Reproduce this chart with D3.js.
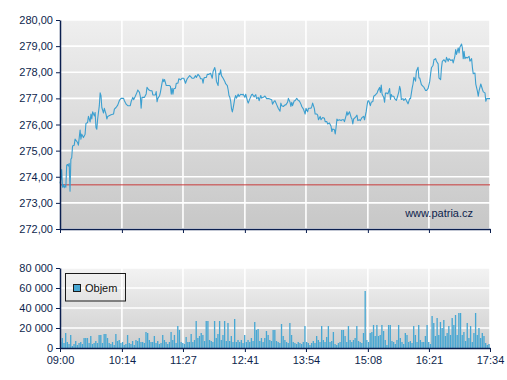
<!DOCTYPE html>
<html>
<head>
<meta charset="utf-8">
<script src="https://cdn.jsdelivr.net/npm/d3@7"></script>
<style>
  body { margin: 0; background: #fff; }
  svg { display: block; font-family: "Liberation Sans", Arial, sans-serif; }
  .axis text { font-size: 11px; fill: #0e1f4d; }
  .axis path, .axis line { stroke: #0b1f4f; }
</style>
</head>
<body>
<svg id="chart"></svg>
<script>
// session 09:00 - 17:34, minutes after open
var sessionLength = 514;
var timeLabels = ["09:00", "10:14", "11:27", "12:41", "13:54", "15:08", "16:21", "17:34"];
var priceTicks = [272, 273, 274, 275, 276, 277, 278, 279, 280];
var volumeTicks = [0, 20000, 40000, 60000, 80000];
var prevClose = 273.69;
var legendLabel = "Objem";
var watermark = "www.patria.cz";

// [minute after 09:00, price]
var price = [
  [0, 273.75], [1, 273.9], [2, 274.28], [3, 273.6], [4, 273.7], [5, 273.58], [6, 273.66], [7, 273.6],
  [8, 274.44], [9, 274.47], [10, 274.41], [11, 274.51], [12, 273.45], [13, 274.67], [14, 274.73],
  [15, 275.18], [17, 275.21], [18, 275.44], [21, 275.31], [22, 275.21], [24, 275.79], [25, 275.44],
  [26, 275.63], [28, 275.5], [30, 275.63], [31, 276.04], [33, 276.08], [34, 276.31], [36, 276.1],
  [37, 276.4], [38, 276.21], [39, 276.49], [41, 276.33], [42, 276.46], [43, 275.88], [44, 275.82],
  [45, 276.21], [47, 276.72], [48, 277.21], [49, 277.1], [50, 276.65], [52, 276.44], [53, 276.62],
  [55, 276.4], [56, 276.21], [57, 276.31], [61, 276.37], [64, 276.4], [65, 276.59], [67, 276.65],
  [69, 276.74], [71, 276.92], [73, 277.0], [76, 277.0], [77, 276.91], [79, 276.78], [81, 276.72],
  [84, 276.72], [85, 276.87], [87, 277.04], [88, 276.95], [90, 277.08], [92, 277.23], [93, 277.32],
  [95, 277.23], [96, 277.08], [97, 276.62], [98, 277.04], [101, 277.04], [103, 277.17], [104, 277.42],
  [106, 277.33], [108, 277.29], [110, 277.29], [111, 277.13], [114, 277.13], [115, 277.26], [116, 276.87],
  [117, 277.0], [119, 277.1], [120, 277.23], [122, 277.59], [123, 277.74], [124, 277.64], [125, 277.72],
  [127, 277.49], [129, 277.49], [131, 277.49],
  [132, 277.46], [133, 277.16], [134, 277.39], [135, 277.16], [136, 277.37], [138, 277.39], [139, 277.58],
  [141, 277.58], [142, 277.75], [144, 277.71], [146, 277.77], [148, 277.77], [150, 277.58], [152, 277.75],
  [155, 277.87], [156, 277.84], [158, 277.77], [160, 277.77], [162, 277.87], [163, 277.8], [165, 277.92],
  [167, 277.84], [168, 277.75], [170, 277.75], [171, 277.58], [172, 277.77], [173, 277.8], [175, 277.8],
  [176, 277.92], [178, 277.92], [180, 277.96], [182, 277.77], [183, 278.03], [185, 278.18], [186, 278.03],
  [187, 277.65], [189, 277.49], [190, 277.96], [191, 277.92], [192, 278.09], [193, 277.87], [195, 277.77],
  [197, 277.65], [198, 277.56], [200, 277.49], [201, 277.33], [202, 277.11], [203, 277.04], [204, 276.89],
  [205, 276.61], [206, 276.48], [207, 276.63], [209, 277.01], [210, 277.11], [211, 277.01], [213, 277.16],
  [214, 277.07], [216, 277.16], [218, 277.14], [219, 277.16], [221, 277.04], [222, 277.16], [224, 276.91],
  [225, 276.82], [227, 276.99], [229, 277.14], [230, 277.16], [232, 277.06], [234, 277.14], [235, 276.99],
  [237, 277.04], [238, 276.91], [240, 277.11], [241, 277.01], [243, 277.04], [245, 277.09], [247, 276.99],
  [250, 276.99], [253, 276.95], [254, 276.78], [256, 276.89], [257, 276.91], [259, 276.76], [261, 276.61],
  [263, 276.51],
  [264, 276.82], [265, 276.72], [267, 276.69], [269, 276.75], [270, 276.75], [272, 276.85], [273, 277.0],
  [275, 276.85], [276, 276.69], [277, 276.85], [278, 276.72], [280, 276.91], [281, 276.91], [283, 277.0],
  [285, 276.91], [286, 276.91], [288, 276.78], [289, 276.69], [291, 276.59], [293, 276.4], [294, 276.62],
  [296, 276.49], [297, 276.62], [300, 276.62], [301, 276.69], [302, 276.82], [304, 276.62], [305, 276.4],
  [307, 276.4], [308, 276.36], [309, 276.18], [311, 276.31], [312, 276.18], [314, 276.27], [316, 276.24],
  [317, 276.11], [319, 276.11], [320, 276.02], [322, 276.06], [324, 275.93], [325, 275.73], [326, 275.83],
  [328, 275.8], [329, 275.64], [330, 275.89], [331, 276.21], [332, 276.15], [334, 276.18], [336, 276.15],
  [337, 276.18], [339, 276.18], [340, 276.11], [342, 276.34], [343, 276.49], [344, 276.36], [346, 276.49],
  [348, 276.27], [349, 276.21], [350, 276.02], [351, 276.21], [353, 276.27], [355, 276.36], [356, 276.15],
  [358, 276.18], [359, 276.15], [361, 276.27], [363, 276.31], [364, 276.18], [365, 276.34], [366, 276.49],
  [367, 276.72], [368, 276.91], [369, 276.91], [371, 276.72], [372, 276.85], [374, 276.88], [375, 277.08],
  [377, 277.13], [379, 277.2], [380, 277.29], [382, 277.42], [383, 277.23], [384, 277.51], [385, 277.17],
  [386, 277.1], [387, 277.04], [388, 276.85], [389, 277.2], [391, 277.2], [392, 277.17], [394, 277.38],
  [395, 276.96], [396, 277.15], [397, 277.08], [399, 277.08], [400, 276.99], [402, 276.92], [403, 277.02],
  [405, 277.25], [406, 277.46], [407, 277.34], [408, 276.96], [410, 276.99], [411, 276.92], [413, 276.99],
  [414, 276.92], [416, 276.79], [418, 276.99], [419, 276.99], [421, 277.4], [422, 277.55], [423, 277.81],
  [425, 277.66], [426, 278.04], [428, 278.19], [429, 277.78], [430, 277.78], [432, 277.53], [434, 277.46],
  [435, 277.43], [437, 277.3], [438, 277.3], [440, 277.38], [442, 277.66], [443, 277.94], [444, 278.17],
  [446, 278.27], [447, 278.48], [449, 278.52], [450, 278.42], [452, 278.32], [453, 277.78], [455, 277.72],
  [456, 278.17], [457, 278.42], [459, 278.48], [461, 278.39], [462, 278.57], [464, 278.42], [465, 278.52],
  [467, 278.45], [469, 278.48], [470, 278.36], [472, 278.61], [473, 278.87], [474, 278.68], [476, 278.93],
  [477, 278.74], [478, 278.96], [480, 279.08], [481, 278.93], [482, 278.52], [483, 278.8], [484, 278.52],
  [485, 278.57], [487, 278.55], [489, 278.61], [490, 278.42], [492, 278.52], [493, 278.17], [494, 277.94],
  [496, 277.97], [497, 277.55], [499, 277.27], [500, 277.08], [501, 277.3], [503, 277.55], [505, 277.34],
  [506, 277.25], [508, 277.21], [509, 276.89], [510, 276.99], [512, 276.99], [514, 276.99]
];

// volume per 2-minute bucket, starting 09:00
var volumeStep = 2;
var volume = [
  6000, 10000, 5000, 15000, 6000, 4000, 13000, 2000, 4000, 7000,
  3000, 5000, 6000, 4000, 10000, 10000, 10000, 5000, 12000, 4000,
  5000, 7000, 5000, 13000, 13000, 5000, 14000, 14000, 10000, 5000,
  4000, 6000, 3000, 14000, 7000, 8000, 5000, 6000, 3000, 4000,
  13000, 5000, 4000, 7000, 3000, 8000, 7000, 10000, 6000, 6000,
  5000, 16000, 15000, 8000, 6000, 6000, 12000, 5000, 7000, 4000,
  5000, 13000, 8000, 6000, 4000, 6000, 16000, 8000, 13000, 5000,
  22000, 18000, 6000, 5000, 4000, 11000, 6000, 6000, 14000, 6000,
  8000, 27000, 10000, 12000, 15000, 13000, 7000, 27000, 27000, 8000,
  7000, 6000, 27000, 10000, 14000, 27000, 8000, 13000, 27000, 7000,
  25000, 7000, 12000, 6000, 29000, 6000, 8000, 6000, 8000, 5000,
  13000, 6000, 8000, 6000, 10000, 7000, 26000, 18000, 19000, 7000,
  10000, 6000, 10000, 17000, 13000, 8000, 7000, 18000, 18000, 7000,
  6000, 5000, 24000, 12000, 8000, 6000, 5000, 25000, 13000, 6000,
  5000, 4000, 6000, 5000, 4000, 6000, 22000, 6000, 5000, 3000,
  5000, 7000, 5000, 12000, 8000, 6000, 22000, 8000, 6000, 11000,
  22000, 6000, 7000, 16000, 4000, 3000, 5000, 6000, 18000, 18000,
  12000, 6000, 22000, 8000, 6000, 8000, 10000, 22000, 7000, 6000,
  5000, 15000, 57000, 8000, 6000, 15000, 16000, 23000, 12000, 23000,
  12000, 13000, 23000, 17000, 8000, 3000, 23000, 23000, 7000, 6000,
  4000, 8000, 23000, 10000, 6000, 4000, 15000, 13000, 6000, 7000,
  5000, 22000, 13000, 6000, 23000, 8000, 6000, 6000, 12000, 23000,
  6000, 4000, 32000, 25000, 12000, 30000, 13000, 26000, 20000, 28000,
  12000, 15000, 22000, 13000, 30000, 23000, 33000, 13000, 35000, 35000,
  13000, 16000, 7000, 25000, 10000, 22000, 6000, 15000, 35000, 13000,
  20000, 10000, 15000, 12000, 5000, 3000, 4000
];

var width = 507, height = 380;
var plot = { left: 60, right: 490 };
var upper = { y0: 20, y1: 229 };
var lower = { y0: 268, y1: 348 };

var svg = d3.select("#chart").attr("width", width).attr("height", height);

var czLocale = d3.formatLocale({ decimal: ",", thousands: "\u00a0", grouping: [3], currency: ["", ""] });
var fmtPrice = czLocale.format(".2f");
var fmtVol = czLocale.format(",d");

var labelMinute = function(t) {
  var p = t.split(":");
  return (+p[0]) * 60 + (+p[1]) - 540;
};

var x = d3.scaleLinear().domain([0, sessionLength]).range([plot.left, plot.right]);
var y = d3.scaleLinear().domain([272, 280]).range([upper.y1, upper.y0]);
var yv = d3.scaleLinear().domain([0, 80000]).range([lower.y1, lower.y0]);

var tickMinutes = timeLabels.map(labelMinute);

// backgrounds
var defs = svg.append("defs");
var makeGrad = function(id, c0, c1) {
  var g = defs.append("linearGradient").attr("id", id)
    .attr("x1", 0).attr("y1", 0).attr("x2", 0).attr("y2", 1);
  g.append("stop").attr("offset", "0%").attr("stop-color", c0);
  g.append("stop").attr("offset", "100%").attr("stop-color", c1);
};
makeGrad("bgTop", "#efefef", "#c7c7c7");
makeGrad("bgBottom", "#f3f3f3", "#cdcdcd");

svg.append("rect").attr("x", plot.left).attr("y", upper.y0)
  .attr("width", plot.right - plot.left).attr("height", upper.y1 - upper.y0)
  .attr("fill", "url(#bgTop)");
svg.append("rect").attr("x", plot.left).attr("y", lower.y0)
  .attr("width", plot.right - plot.left).attr("height", lower.y1 - lower.y0)
  .attr("fill", "url(#bgBottom)");

// grid
var grid = svg.append("g").attr("stroke", "#ffffff").attr("stroke-width", 1.6);
grid.selectAll(".hTop").data(priceTicks).enter().append("line")
  .attr("x1", plot.left).attr("x2", plot.right)
  .attr("y1", function(d) { return y(d); }).attr("y2", function(d) { return y(d); });
grid.selectAll(".hBot").data(volumeTicks.slice(1)).enter().append("line")
  .attr("x1", plot.left).attr("x2", plot.right)
  .attr("y1", function(d) { return yv(d); }).attr("y2", function(d) { return yv(d); });
grid.selectAll(".vTop").data(tickMinutes.slice(1)).enter().append("line")
  .attr("x1", function(d) { return x(d); }).attr("x2", function(d) { return x(d); })
  .attr("y1", upper.y0).attr("y2", upper.y1);
grid.selectAll(".vBot").data(tickMinutes.slice(1)).enter().append("line")
  .attr("x1", function(d) { return x(d); }).attr("x2", function(d) { return x(d); })
  .attr("y1", lower.y0).attr("y2", lower.y1);

// watermark
svg.append("text").attr("x", 473).attr("y", 217)
  .attr("text-anchor", "end").attr("font-size", 11).attr("fill", "#0e1f4d")
  .text(watermark);

// previous close
svg.append("line")
  .attr("x1", plot.left).attr("x2", plot.right)
  .attr("y1", y(prevClose)).attr("y2", y(prevClose))
  .attr("stroke", "#c83a3a").attr("stroke-width", 1);

// price line
var line = d3.line()
  .x(function(d) { return x(d[0]); })
  .y(function(d) { return y(d[1]); });
svg.append("path").datum(price)
  .attr("d", line)
  .attr("fill", "none")
  .attr("stroke", "#3b9fd0")
  .attr("stroke-width", 1.1)
  .attr("stroke-linejoin", "round");

// volume bars
var barW = x(volumeStep) - x(0);
svg.append("g").selectAll("rect").data(volume).enter().append("rect")
  .attr("x", function(d, i) { return x(i * volumeStep); })
  .attr("width", barW - 0.35)
  .attr("y", function(d) { return yv(d); })
  .attr("height", function(d) { return yv(0) - yv(d); })
  .attr("fill", "#47a7d3");

// axes
var xAxisTop = d3.axisBottom(x).tickValues(tickMinutes).tickSize(4).tickSizeOuter(0).tickFormat("");
svg.append("g").attr("class", "axis").attr("transform", "translate(0," + upper.y1 + ")").call(xAxisTop);

var xAxisBot = d3.axisBottom(x).tickValues(tickMinutes).tickSize(4).tickSizeOuter(0).tickPadding(4)
  .tickFormat(function(d, i) { return timeLabels[i]; });
svg.append("g").attr("class", "axis").attr("transform", "translate(0," + lower.y1 + ")").call(xAxisBot);

var yAxisTop = d3.axisLeft(y).tickValues(priceTicks).tickSize(4).tickSizeOuter(0).tickPadding(3)
  .tickFormat(fmtPrice);
svg.append("g").attr("class", "axis").attr("transform", "translate(" + plot.left + ",0)").call(yAxisTop);

var yAxisBot = d3.axisLeft(yv).tickValues(volumeTicks).tickSize(4).tickSizeOuter(0).tickPadding(3)
  .tickFormat(fmtVol);
svg.append("g").attr("class", "axis").attr("transform", "translate(" + plot.left + ",0)").call(yAxisBot);

svg.selectAll(".axis .domain").attr("stroke-width", 1.5);

// legend
var legend = svg.append("g").attr("transform", "translate(65,273)");
legend.append("rect").attr("x", 0.5).attr("y", 0.5).attr("width", 60).attr("height", 27.5)
  .attr("fill", "none").attr("stroke", "#1a1a1a");
legend.append("rect").attr("x", 8.5).attr("y", 11.5).attr("width", 7).attr("height", 7)
  .attr("fill", "#47a7d3").attr("stroke", "#1a1a1a");
legend.append("text").attr("x", 20).attr("y", 19).attr("font-size", 11).attr("fill", "#111")
  .text(legendLabel);
</script>
</body>
</html>
